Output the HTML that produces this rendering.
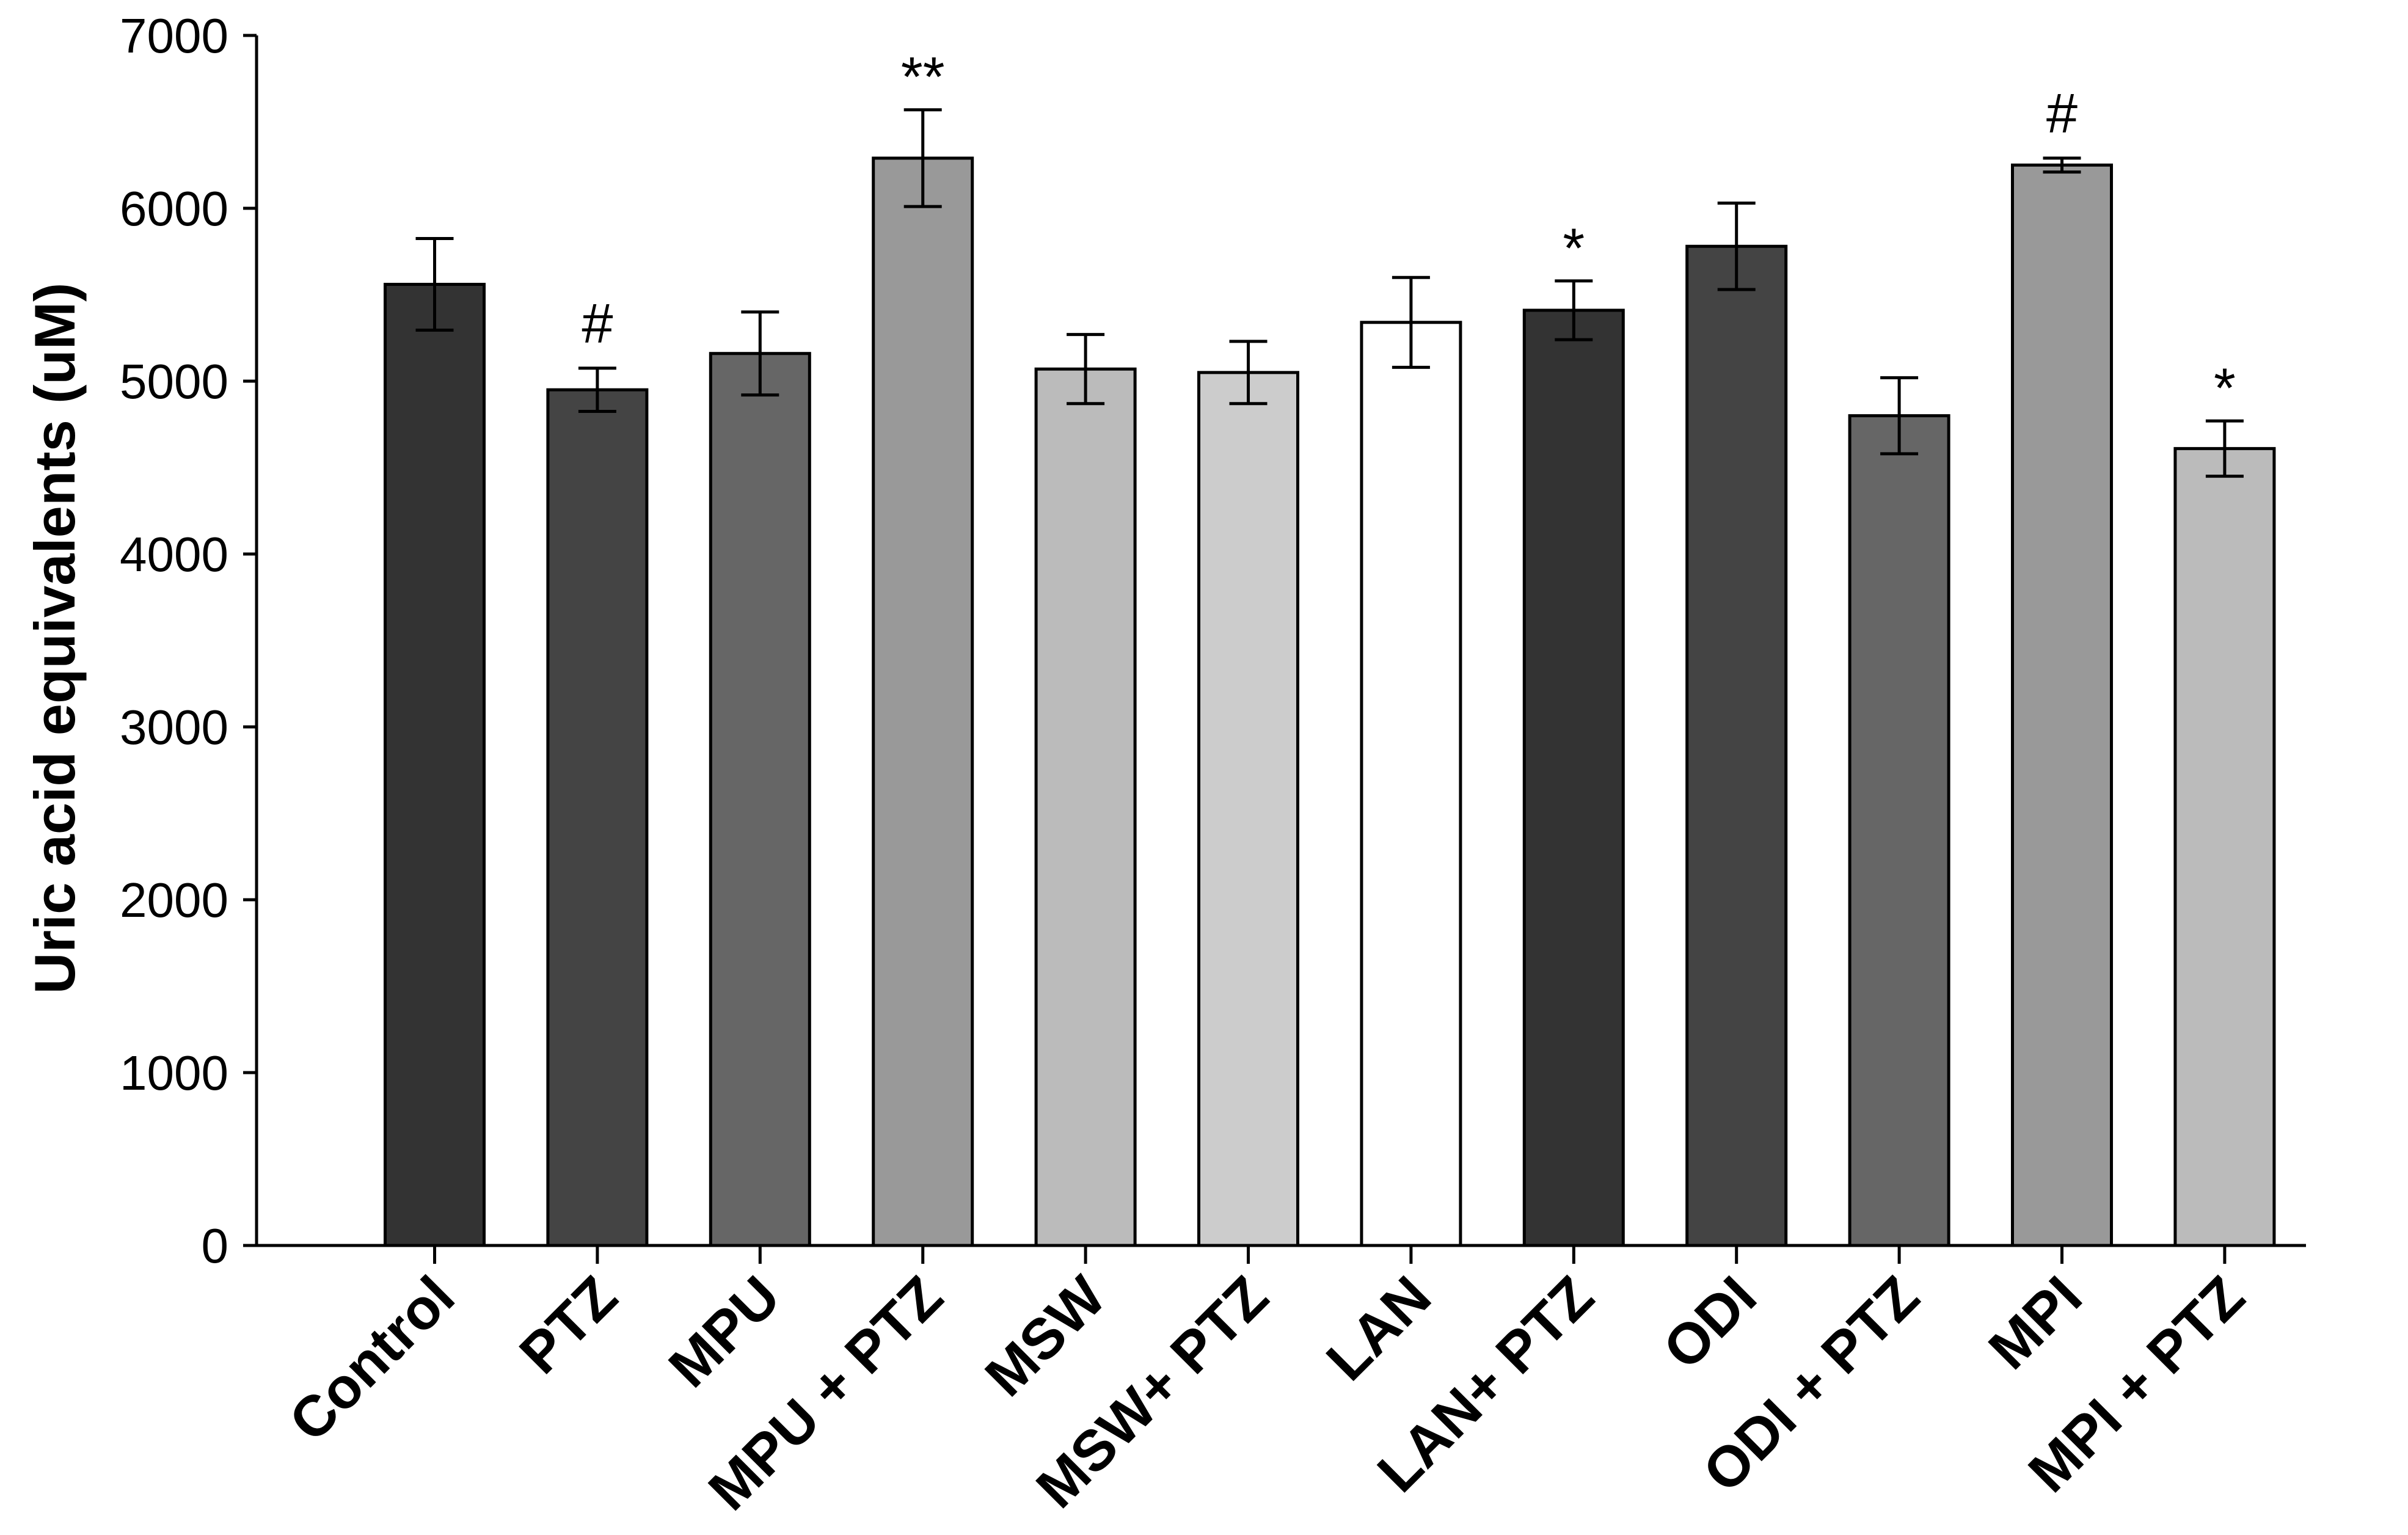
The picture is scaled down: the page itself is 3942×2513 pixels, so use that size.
<!DOCTYPE html>
<html><head><meta charset="utf-8"><style>body{margin:0;background:#fff}svg{display:block}</style></head>
<body>
<svg id="chart" xmlns="http://www.w3.org/2000/svg" width="3942" height="2513" viewBox="0 0 3942 2513" font-family="Liberation Sans, sans-serif"></svg>
<script>
const categories=["Control","PTZ","MPU","MPU + PTZ","MSW","MSW+ PTZ","LAN","LAN+ PTZ","ODI","ODI + PTZ","MPI","MPI + PTZ"];
const values=[5560,4950,5160,6290,5070,5050,5340,5410,5780,4800,6250,4610];
const errors=[265,125,240,280,200,180,260,170,250,220,40,160];
const marks=["","#","","**","","","","*","","","#","*"];
const fills=["#333333","#444444","#666666","#999999","#bbbbbb","#cccccc","#ffffff","#333333","#444444","#666666","#999999","#bbbbbb"];
const yTicks=[0,1000,2000,3000,4000,5000,6000,7000];

const NS="http://www.w3.org/2000/svg";
const svg=document.getElementById('chart');
const y0=2039,pxPer=283/1000,axisX=420;
const yS=v=>y0-v*pxPer;
const xS=i=>711.5+266.4*i;
const bw=162;
function mk(tag,attrs,parent){const e=document.createElementNS(NS,tag);for(const k in attrs)e.setAttribute(k,attrs[k]);(parent||svg).appendChild(e);return e;}

let ya=mk('line',{x1:axisX,y1:yS(7000),x2:axisX,y2:y0+2,stroke:'#000','stroke-width':5});


yTicks.forEach(t=>{
  let tl=mk('line',{x1:axisX-22,y1:yS(t),x2:axisX,y2:yS(t),stroke:'#000','stroke-width':5});
  
  
  let tx=mk('text',{x:374,y:yS(t)+28,'text-anchor':'end','font-size':80});
  tx.textContent=t;
  
  
});
let yt=mk('text',{x:0,y:0,transform:'translate(122,1045) rotate(-90)','text-anchor':'middle','font-size':94,'font-weight':'bold'});
yt.textContent='Uric acid equivalents (uM)';



categories.forEach((c,i)=>{
  const cx=xS(i),top=yS(values[i]);
  let r=mk('rect',{x:cx-bw/2,y:top,width:bw,height:y0-top,fill:fills[i],stroke:'#000','stroke-width':5});
  
  
  const eh=yS(values[i]+errors[i]),el=yS(values[i]-errors[i]);
  let g=mk('g',{stroke:'#000','stroke-width':5});
  
  
  mk('line',{x1:cx,y1:eh,x2:cx,y2:el},g);
  mk('line',{x1:cx-31,y1:eh,x2:cx+31,y2:eh},g);
  mk('line',{x1:cx-31,y1:el,x2:cx+31,y2:el},g);
  if(marks[i]){
    let m=mk('text',{x:cx,y:eh-(marks[i]==='#'?42:22),'text-anchor':'middle','font-size':92});
    m.textContent=marks[i];
    
    
  }
  let tk=mk('line',{x1:cx,y1:y0,x2:cx,y2:y0+30,stroke:'#000','stroke-width':5});
  
  
  let lb=mk('text',{x:0,y:0,transform:`translate(${cx+38},${y0+90}) rotate(-45)`,'text-anchor':'end','font-size':94,'font-weight':'bold'});
  lb.textContent=c;
  
  
});
let xa=mk('line',{x1:axisX-2,y1:y0,x2:3775,y2:y0,stroke:'#000','stroke-width':5});


</script>
</body></html>
